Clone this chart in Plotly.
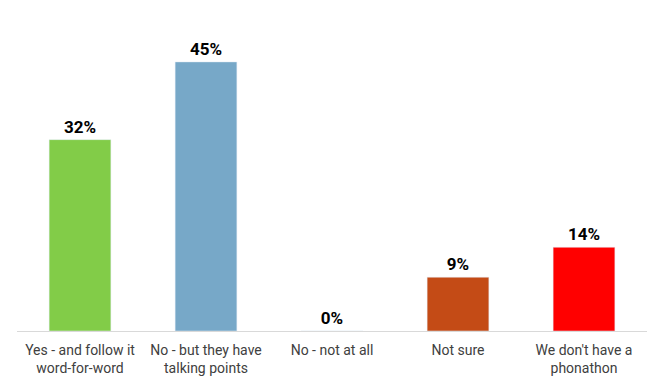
import plotly.graph_objects as go

categories = ["Yes - and follow it<br>word-for-word", "No - but they have<br>talking points",
              "No - not at all", "Not sure", "We don't have a<br>phonathon"]
values = [32, 45, 0, 9, 14]
colors = ["#82CC48", "#77A8C8", "#4472C4", "#C44B16", "#FF0000"]
labels = [f"{v}%" for v in values]

fig = go.Figure(go.Bar(
    x=categories, y=values, marker_color=colors, width=0.49,
    text=labels, textposition="outside", cliponaxis=False,
    textfont=dict(family="Liberation Sans Narrow, Roboto, sans-serif", size=17, color="#000000", weight="bold"),
))
fig.update_layout(
    width=655, height=380,
    margin=dict(l=9, r=16, t=24, b=57),
    plot_bgcolor="white", paper_bgcolor="white",
    showlegend=False,
    font=dict(family="Liberation Sans Narrow, Roboto, sans-serif", size=14, color="#404040"),
)
fig.update_xaxes(showline=True, linecolor="#D9D9D9", linewidth=1, ticks="", automargin=False,
                 ticklabelstandoff=6, tickfont=dict(size=14, color="#404040"))
fig.update_yaxes(range=[0, 50], visible=False, showgrid=False, zeroline=False)
fig.write_html("out.html")
